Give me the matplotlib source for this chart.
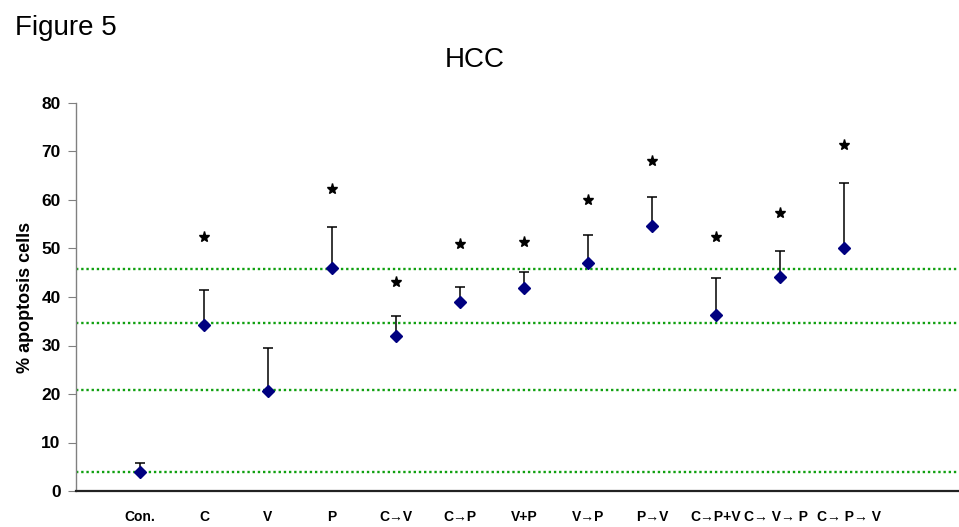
import numpy as np
import matplotlib
matplotlib.use("Agg")
import matplotlib.pyplot as plt
import matplotlib.transforms as mtransforms

plt.rcParams['font.family'] = ['Liberation Sans', 'DejaVu Sans']

# Data
groups = ['Con.', 'C', 'V', 'P', 'C→V', 'C→P', 'V+P', 'V→P', 'P→V',
          'C→P+V', 'C→ V→ P', 'C→ P→ V']
means = [3.9, 34.2, 20.7, 46.0, 32.0, 38.9, 41.8, 47.1, 54.7, 36.3, 44.2, 50.2]
upper = [5.7, 41.5, 29.5, 54.5, 36.1, 42.1, 45.2, 52.8, 60.7, 43.9, 49.5, 63.6]
star_y = [None, 52.4, None, 62.3, 43.1, 50.9, 51.3, 59.9, 68.1, 52.4, 57.4, 71.3]
ref_lines = [3.9, 20.8, 34.7, 45.8]
yticks = [0, 10, 20, 30, 40, 50, 60, 70, 80]

fig = plt.figure(figsize=(9.59, 5.27), dpi=100)
ax = fig.add_axes([76 / 959, 1 - 491 / 527, 1 - 76 / 959, (491 - 103) / 527])

x = np.arange(1, len(groups) + 1)

# reference dotted lines
for yv in ref_lines:
    ax.axhline(yv, color='#10a010', lw=1.7, ls=(0, (1, 1.2)), zorder=1)

# upper-only error bars
ax.vlines(x, means, upper, color='black', lw=1.1, zorder=2)
ax.hlines(upper, x - 0.085, x + 0.085, color='black', lw=1.1, zorder=2)

ax.plot(x, means, ls='none', marker='D', ms=6.5, color='#000080', zorder=3)

sx = [xi for xi, s in zip(x, star_y) if s is not None]
sy = [s for s in star_y if s is not None]
ax.plot(sx, sy, ls='none', marker='*', ms=8, color='black', zorder=3)

ax.set_xlim(0, (959 - 76) / 64)
ax.set_ylim(0, 80)
ax.set_yticks(yticks)
ax.set_yticklabels([str(v) for v in yticks], fontsize=12.5, fontweight='bold')
ax.set_xticks(x)
ax.set_xticklabels(groups, fontsize=10, fontweight='bold')
ax.tick_params(axis='x', length=0, pad=14)
ax.tick_params(axis='y', length=6, color='#808080', pad=5)

# last two labels sit a bit apart in the original
labels = ax.get_xticklabels()
for lab, dx in [(labels[-2], -4), (labels[-1], 5)]:
    lab.set_transform(lab.get_transform() +
                      mtransforms.ScaledTranslation(dx / 100, 0, fig.dpi_scale_trans))

ax.spines['top'].set_visible(False)
ax.spines['right'].set_visible(False)
ax.spines['left'].set_color('#808080')
ax.spines['left'].set_linewidth(1.0)
ax.spines['bottom'].set_color('#222222')
ax.spines['bottom'].set_linewidth(1.6)

ax.set_ylabel('% apoptosis cells', fontsize=13, fontweight='bold', labelpad=5)

fig.text(15 / 959, 1 - 28 / 527, 'Figure 5', fontsize=20, va='center', ha='left')
fig.text(475 / 959, 1 - 60 / 527, 'HCC', fontsize=20, va='center', ha='center')

fig.savefig('out.png', dpi=100)
